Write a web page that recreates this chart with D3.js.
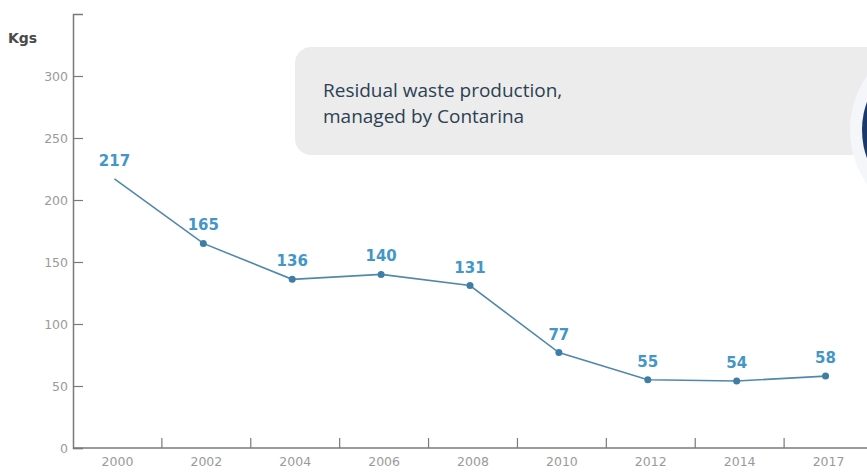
<!DOCTYPE html>
<html>
<head>
<meta charset="utf-8">
<script src="https://cdn.jsdelivr.net/npm/d3@7"></script>
<style>
  html, body { margin: 0; padding: 0; background: #fff; }
  svg { display: block; }
</style>
</head>
<body>
<div id="chart" style="width:867px;height:475px;"></div>
<script>
const years = ['2000', '2002', '2004', '2006', '2008', '2010', '2012', '2014', '2017'];
const residual = [217, 165, 136, 140, 131, 77, 55, 54, 58];
const yTicks = [0, 50, 100, 150, 200, 250, 300];
const yMax = 350;
const unitLabel = 'Kgs';
const titleLines = ['Residual waste production,', 'managed by Contarina'];

const W = 867, H = 475;
const LEFT = 73, BOTTOM = 448, TOP = 14;

const svg = d3.select('#chart').append('svg')
  .attr('width', W)
  .attr('height', H);

// annotation box, with the edge of the round badge on the right
svg.append('rect')
  .attr('x', 295).attr('y', 47)
  .attr('width', 620).attr('height', 108)
  .attr('rx', 16)
  .attr('fill', '#ececec');

svg.append('circle')
  .attr('cx', 945).attr('cy', 130).attr('r', 95)
  .attr('fill', '#f4f6f9');
svg.append('circle')
  .attr('cx', 945).attr('cy', 130).attr('r', 83)
  .attr('fill', '#1b3a6b');

svg.selectAll('text.title')
  .data(titleLines)
  .join('text')
  .attr('class', 'title')
  .attr('x', 323)
  .attr('y', (d, i) => 97 + i * 26)
  .style('font-family', '"Open Sans", sans-serif')
  .style('font-size', '19px')
  .attr('fill', '#2c4152')
  .text(d => d);

const x = d3.scaleBand()
  .domain(years)
  .range([LEFT, LEFT + 800])
  .padding(0);

const y = d3.scaleLinear()
  .domain([0, yMax])
  .range([BOTTOM, TOP]);

// y axis
const yAxis = svg.append('g')
  .attr('transform', `translate(${LEFT},0)`)
  .call(d3.axisLeft(y)
    .tickValues(yTicks)
    .tickSizeInner(-10)
    .tickSizeOuter(-10)
    .tickPadding(5));
yAxis.select('.domain').attr('stroke', '#7a7a7a').attr('stroke-width', 1.5);
yAxis.selectAll('.tick line').attr('stroke', '#7a7a7a').attr('stroke-width', 1.2);
yAxis.selectAll('.tick text')
  .attr('fill', '#9a9a9a')
  .style('font-family', '"DejaVu Sans", sans-serif')
  .style('font-size', '12.5px');

// x axis
const xAxis = svg.append('g')
  .attr('transform', `translate(0,${BOTTOM})`)
  .call(d3.axisBottom(x).tickSize(0).tickPadding(9));
xAxis.select('.domain').attr('d', `M${LEFT},0H${W}`).attr('stroke', '#7a7a7a').attr('stroke-width', 1.5);
xAxis.selectAll('.tick text')
  .attr('fill', '#9a9a9a')
  .style('font-family', '"DejaVu Sans", sans-serif')
  .style('font-size', '12.5px');

xAxis.selectAll('line.sep')
  .data(years.slice(1))
  .join('line')
  .attr('class', 'sep')
  .attr('x1', d => x(d)).attr('x2', d => x(d))
  .attr('y1', 0).attr('y2', -10)
  .attr('stroke', '#7a7a7a').attr('stroke-width', 1.2);

svg.append('text')
  .attr('x', 8).attr('y', 43)
  .attr('fill', '#4a4a4a')
  .style('font-family', '"DejaVu Sans", sans-serif')
  .style('font-weight', 'bold')
  .style('font-size', '14px')
  .text(unitLabel);

const pts = years.map((yr, i) => ({ yr, v: residual[i] }));
const cx = d => x(d.yr) + x.bandwidth() / 2 - 3;

svg.append('path')
  .datum(pts)
  .attr('fill', 'none')
  .attr('stroke', '#5088ad')
  .attr('stroke-width', 1.6)
  .attr('d', d3.line().x(cx).y(d => y(d.v)));

svg.selectAll('circle.pt')
  .data(pts.slice(1))
  .join('circle')
  .attr('class', 'pt')
  .attr('cx', cx)
  .attr('cy', d => y(d.v))
  .attr('r', 3.5)
  .attr('fill', '#3e7ea6');

svg.selectAll('text.val')
  .data(pts)
  .join('text')
  .attr('class', 'val')
  .attr('x', cx)
  .attr('y', d => y(d.v) - 13)
  .attr('text-anchor', 'middle')
  .attr('fill', '#4396c8')
  .style('font-family', '"DejaVu Sans", sans-serif')
  .style('font-weight', 'bold')
  .style('font-size', '15px')
  .text(d => d.v);
</script>
</body>
</html>
